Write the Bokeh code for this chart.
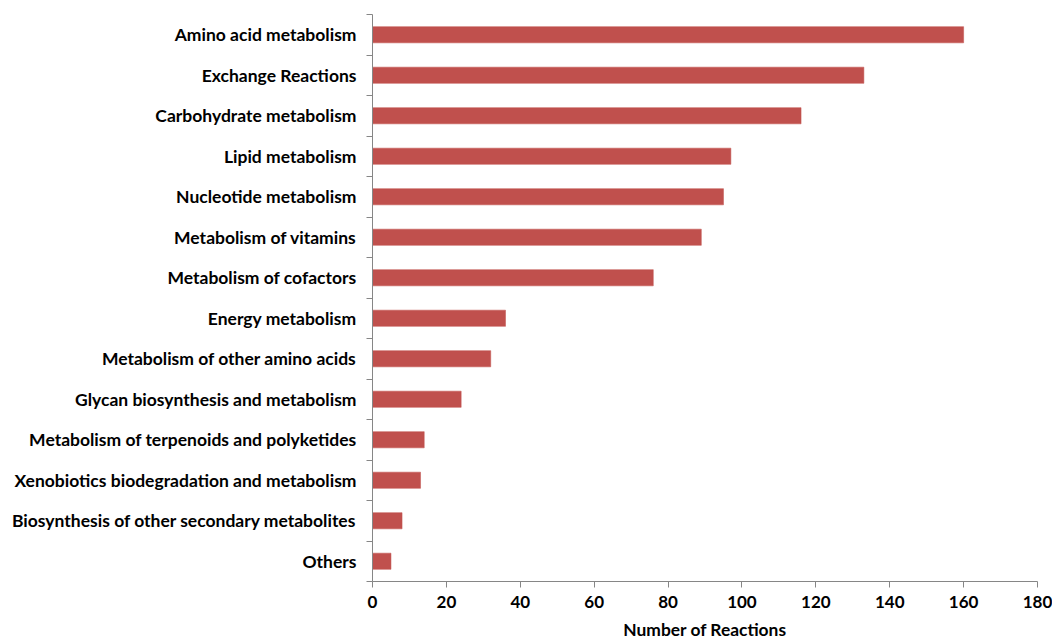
from bokeh.plotting import figure
from bokeh.models import ColumnDataSource, FixedTicker, Range1d
from bokeh.embed import file_html
from bokeh.resources import INLINE

categories = [
    "Amino acid metabolism",
    "Exchange Reactions",
    "Carbohydrate metabolism",
    "Lipid metabolism",
    "Nucleotide metabolism",
    "Metabolism of vitamins",
    "Metabolism of cofactors",
    "Energy metabolism",
    "Metabolism of other amino acids",
    "Glycan biosynthesis and metabolism",
    "Metabolism of terpenoids and polyketides",
    "Xenobiotics biodegradation and metabolism",
    "Biosynthesis of other secondary metabolites",
    "Others",
]
values = [160, 133, 116, 97, 95, 89, 76, 36, 32, 24, 14, 13, 8, 5]
x_ticks = [0, 20, 40, 60, 80, 100, 120, 140, 160, 180]

n = len(categories)
ypos = [n - i - 0.5 for i in range(n)]
src = ColumnDataSource(dict(y=ypos, v=values, cat=categories))

p = figure(width=1052, height=642, output_backend="svg", toolbar_location=None,
           x_range=Range1d(0, 180), y_range=Range1d(0, n),
           min_border_left=372, min_border_right=15, min_border_top=14, min_border_bottom=60)
p.hbar(y="y", right="v", left=0, height=0.4, source=src,
       fill_color="#C0504D", line_color="#C0504D", line_width=0.5)

p.xgrid.visible = False
p.ygrid.visible = False
p.outline_line_color = None
p.background_fill_color = "white"

font = "Lato"
axis_color = "#868686"

p.xaxis.ticker = FixedTicker(ticks=x_ticks)
p.xaxis.axis_line_color = axis_color
p.xaxis.major_tick_line_color = axis_color
p.xaxis.major_tick_out = 6
p.xaxis.major_tick_in = 0
p.xaxis.minor_tick_line_color = None
p.xaxis.major_label_text_font = font
p.xaxis.major_label_text_font_style = "bold"
p.xaxis.major_label_text_font_size = "17px"
p.xaxis.major_label_text_color = "black"
p.xaxis.major_label_standoff = 8
p.xaxis.axis_label = "Number of Reactions"
p.xaxis.axis_label_text_font = font
p.xaxis.axis_label_text_font_style = "bold"
p.xaxis.axis_label_text_font_size = "17.4px"
p.xaxis.axis_label_text_color = "black"
p.xaxis.axis_label_standoff = 8

p.yaxis.ticker = FixedTicker(ticks=ypos, minor_ticks=list(range(n + 1)))
p.yaxis.major_label_overrides = {y: c for y, c in zip(ypos, categories)}
p.yaxis.axis_line_color = axis_color
p.yaxis.major_tick_line_color = None
p.yaxis.minor_tick_line_color = axis_color
p.yaxis.minor_tick_out = 6
p.yaxis.minor_tick_in = 0
p.yaxis.major_tick_out = 6
p.yaxis.major_label_text_font = font
p.yaxis.major_label_text_font_style = "bold"
p.yaxis.major_label_text_font_size = "17.5px"
p.yaxis.major_label_text_color = "black"
p.yaxis.major_label_standoff = 10

open("out.html", "w").write(file_html(p, INLINE))
